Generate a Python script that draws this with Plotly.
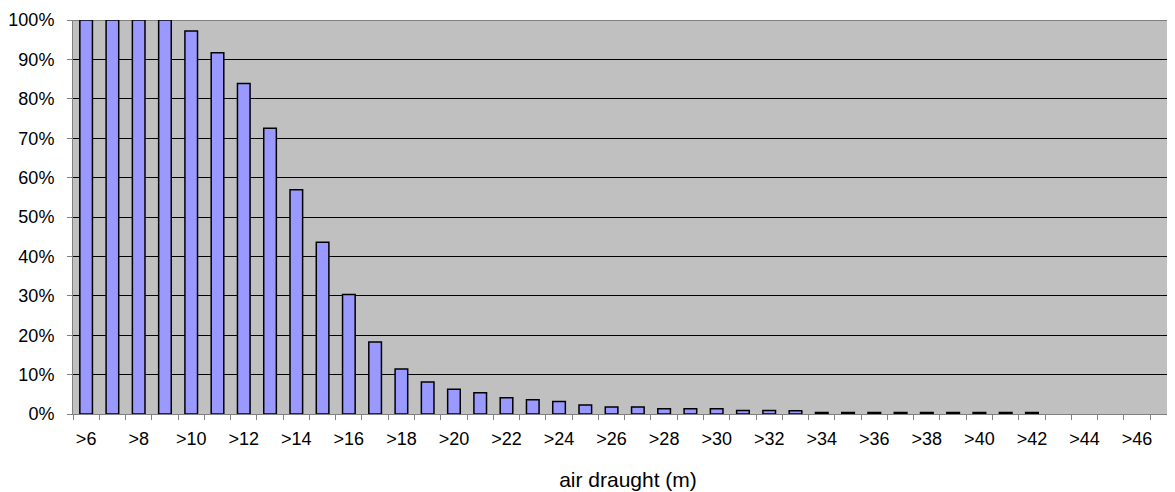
import plotly.graph_objects as go

categories = [">" + str(m) for m in range(6, 48)]
share_pct = [100, 100, 100, 100, 97.2, 91.7, 83.9, 72.5, 56.9, 43.6,
             30.3, 18.3, 11.4, 8.1, 6.3, 5.4, 4.1, 3.6, 3.2, 2.3,
             1.8, 1.8, 1.35, 1.35, 1.35, 0.9, 0.9, 0.85, 0.4, 0.4,
             0.4, 0.4, 0.4, 0.4, 0.4, 0.4, 0.4, None, None, None,
             None, None]
tick_text = [c if i % 2 == 0 else "" for i, c in enumerate(categories)]
y_ticks = list(range(0, 101, 10))
y_tick_text = [str(v) + "%" for v in y_ticks]

FONT = "Liberation Sans, Arial, sans-serif"

fig = go.Figure(go.Bar(
    x=categories, y=share_pct,
    marker=dict(color="#9999FF", line=dict(color="#000000", width=1.5)),
    hoverinfo="x+y",
))

fig.update_layout(
    width=1175, height=492,
    margin=dict(l=65, r=0, t=12, b=86),
    paper_bgcolor="white", plot_bgcolor="#C0C0C0",
    bargap=0.52, showlegend=False,
    font=dict(family=FONT, size=18, color="#000000"),
    shapes=[dict(type="line", xref="paper", yref="y", x0=0, x1=1, y0=100, y1=100,
                 line=dict(color="#808080", width=2), layer="between")],
)
fig.update_xaxes(
    type="category", range=[-0.5, 41.75], automargin=False,
    tickmode="array", tickvals=categories, ticktext=tick_text,
    tickson="boundaries", ticks="outside", ticklen=5, tickcolor="#808080",
    showline=True, linecolor="#808080", linewidth=1,
    showgrid=False, tickangle=0, ticklabelstandoff=8,
    title=dict(text="air draught (m)", font=dict(size=21, family=FONT), standoff=24),
)
fig.update_yaxes(
    range=[0, 100], automargin=False,
    tickmode="array", tickvals=y_ticks, ticktext=y_tick_text,
    ticks="outside", ticklen=5, tickcolor="#808080",
    showline=True, linecolor="#808080", linewidth=1,
    showgrid=True, gridcolor="#000000", gridwidth=1,
    ticklabelstandoff=9, zeroline=False,
)

fig.write_html("out.html")
